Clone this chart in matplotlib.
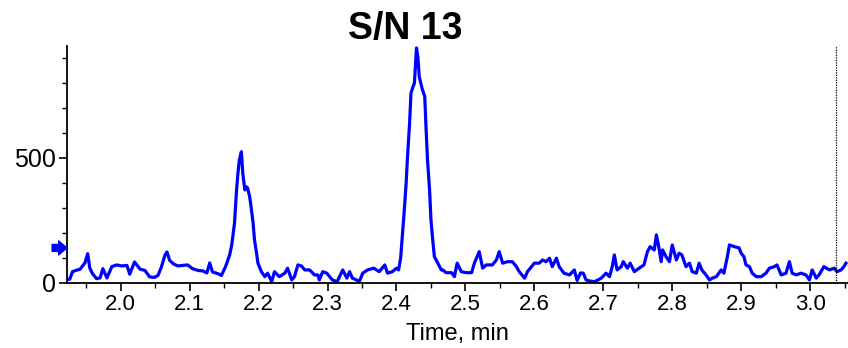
import matplotlib
matplotlib.use('Agg')
import matplotlib.pyplot as plt
import matplotlib.transforms as mtransforms
from matplotlib.ticker import MultipleLocator

plt.rcParams['font.family'] = ['Liberation Sans', 'DejaVu Sans']

# retention time (min) and intensity
time = [1.922, 1.926, 1.930, 1.935, 1.941, 1.948, 1.952, 1.955, 1.959, 1.965,
        1.970, 1.974, 1.980, 1.987, 1.994, 2.001, 2.009, 2.013, 2.020, 2.028,
        2.035, 2.042, 2.049, 2.054, 2.059, 2.064, 2.067, 2.071, 2.077, 2.083,
        2.090, 2.097, 2.104, 2.112, 2.119, 2.125, 2.129, 2.133, 2.141, 2.146,
        2.152, 2.158, 2.161, 2.165, 2.168, 2.170, 2.172, 2.175, 2.177, 2.180,
        2.182, 2.184, 2.187, 2.189, 2.192, 2.194, 2.197, 2.199, 2.204, 2.209,
        2.213, 2.219, 2.223, 2.230, 2.238, 2.242, 2.248, 2.252, 2.257, 2.262,
        2.267, 2.274, 2.281, 2.286, 2.288, 2.293, 2.299, 2.303, 2.307, 2.314,
        2.322, 2.328, 2.332, 2.336, 2.342, 2.346, 2.351, 2.358, 2.367, 2.375,
        2.383, 2.387, 2.394, 2.400, 2.403, 2.406, 2.408, 2.411, 2.414, 2.416,
        2.419, 2.421, 2.424, 2.426, 2.429, 2.431, 2.433, 2.437, 2.441, 2.443,
        2.445, 2.448, 2.450, 2.453, 2.455, 2.460, 2.465, 2.467, 2.472, 2.480,
        2.484, 2.488, 2.494, 2.501, 2.509, 2.513, 2.517, 2.520, 2.525, 2.530,
        2.539, 2.545, 2.549, 2.554, 2.561, 2.568, 2.574, 2.578, 2.586, 2.590,
        2.600, 2.607, 2.612, 2.617, 2.622, 2.626, 2.632, 2.636, 2.643, 2.651,
        2.658, 2.662, 2.667, 2.671, 2.675, 2.680, 2.687, 2.691, 2.697, 2.704,
        2.709, 2.713, 2.716, 2.720, 2.726, 2.729, 2.735, 2.739, 2.745, 2.752,
        2.759, 2.764, 2.768, 2.774, 2.777, 2.780, 2.784, 2.786, 2.791, 2.796,
        2.800, 2.806, 2.810, 2.814, 2.820, 2.825, 2.829, 2.835, 2.839, 2.843,
        2.849, 2.854, 2.858, 2.864, 2.871, 2.875, 2.880, 2.883, 2.890, 2.897,
        2.900, 2.904, 2.907, 2.912, 2.916, 2.922, 2.929, 2.936, 2.941, 2.948,
        2.952, 2.958, 2.965, 2.970, 2.974, 2.980, 2.987, 2.994, 2.999, 3.003,
        3.009, 3.013, 3.020, 3.028, 3.035, 3.039, 3.045, 3.049, 3.052]
intensity = [13, 15, 45, 50, 55, 80, 117, 60, 37, 17,
             20, 57, 20, 65, 72, 68, 70, 35, 84, 55,
             50, 24, 22, 30, 64, 110, 124, 90, 75, 68,
             70, 72, 57, 50, 48, 40, 80, 44, 37, 30,
             65, 112, 152, 239, 372, 439, 492, 525, 439, 372,
             385, 379, 345, 305, 239, 172, 119, 79, 45, 25,
             39, 5, 45, 25, 39, 59, 12, 25, 72, 68,
             52, 52, 32, 32, 12, 45, 39, 25, 12, 5,
             52, 19, 45, 19, 12, 5, 39, 52, 59, 45,
             72, 39, 45, 59, 52, 99, 172, 279, 399, 505,
             639, 759, 785, 799, 940, 905, 825, 779, 745, 612,
             492, 372, 252, 159, 105, 79, 52, 52, 41, 41,
             25, 79, 45, 41, 41, 79, 105, 125, 59, 72,
             72, 92, 125, 79, 85, 85, 65, 45, 19, 45,
             79, 79, 92, 85, 99, 65, 99, 65, 39, 32,
             52, 10, 40, 39, 12, 8, 5, 10, 19, 39,
             25, 65, 112, 52, 65, 85, 59, 79, 45, 59,
             72, 125, 145, 132, 192, 152, 85, 132, 105, 85,
             152, 92, 119, 112, 65, 79, 45, 39, 79, 52,
             32, 12, 19, 25, 52, 39, 105, 152, 145, 140,
             119, 105, 72, 65, 39, 25, 25, 39, 59, 65,
             72, 32, 39, 85, 39, 32, 39, 32, 12, 52,
             19, 32, 65, 52, 59, 45, 52, 65, 79]

marker_time = 3.038
arrow_level = 140

fig = plt.figure(figsize=(8.48, 3.48), dpi=100)
ax = fig.add_axes([0.079, 0.187, 0.921, 0.681])

ax.plot(time, intensity, color='#0000FF', lw=2.3)
ax.axvline(marker_time, color='black', lw=0.9, ls=(0, (1, 1)))

ax.set_xlim(1.922, 3.055)
ax.set_ylim(0, 948)
ax.xaxis.set_major_locator(MultipleLocator(0.1))
ax.xaxis.set_minor_locator(MultipleLocator(0.05))
ax.yaxis.set_major_locator(MultipleLocator(500))
ax.yaxis.set_minor_locator(MultipleLocator(100))
ax.xaxis.set_major_formatter(matplotlib.ticker.FormatStrFormatter('%.1f'))

for side in ['top', 'right']:
    ax.spines[side].set_visible(False)
for side in ['left', 'bottom']:
    ax.spines[side].set_linewidth(1.3)
ax.tick_params(which='major', length=6, width=1.2, labelsize=16, pad=2)
ax.tick_params(axis='y', which='major', labelsize=18)
ax.tick_params(which='minor', length=3.5, width=1.0)

ax.set_xlabel('Time, min', fontsize=17, labelpad=6)

# blue arrow on the y axis
trans = mtransforms.blended_transform_factory(ax.transAxes, ax.transData)
ax.annotate('', xy=(0.0, arrow_level), xycoords=trans,
            xytext=(-0.019, arrow_level), textcoords=trans,
            arrowprops=dict(arrowstyle='simple,head_width=1.0,head_length=0.6,tail_width=0.5',
                            color='#0000FF', shrinkA=0, shrinkB=0))

fig.text(0.478, 0.918, 'S/N 13', fontsize=27, fontweight='bold',
         ha='center', va='center')

fig.savefig('out.png', dpi=100)
